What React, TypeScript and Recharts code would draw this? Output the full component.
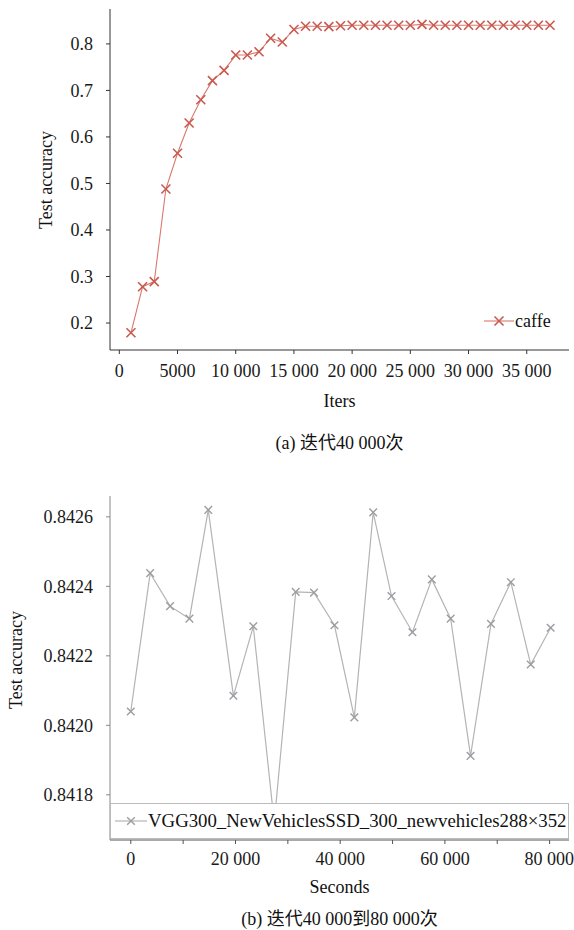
import React from 'react';
import { LineChart, Line, XAxis, YAxis } from 'recharts';

const iters = [1000, 2000, 3000, 4000, 5000, 6000, 7000, 8000, 9000, 10000, 11000, 12000, 13000, 14000, 15000, 16000, 17000, 18000, 19000, 20000, 21000, 22000, 23000, 24000, 25000, 26000, 27000, 28000, 29000, 30000, 31000, 32000, 33000, 34000, 35000, 36000, 37000];
const caffeAcc = [0.179, 0.278, 0.289, 0.488, 0.565, 0.63, 0.68, 0.721, 0.743, 0.776, 0.776, 0.783, 0.812, 0.804, 0.831, 0.838, 0.838, 0.837, 0.839, 0.84, 0.84, 0.84, 0.84, 0.84, 0.84, 0.842, 0.84, 0.84, 0.84, 0.84, 0.84, 0.84, 0.84, 0.84, 0.84, 0.84, 0.84];
const topXTicks = [0, 5000, 10000, 15000, 20000, 25000, 30000, 35000];
const topYTicks = [0.2, 0.3, 0.4, 0.5, 0.6, 0.7, 0.8];

const seconds = [0, 3700, 7500, 11200, 14800, 19600, 23400, 27400, 31500, 35000, 38900, 42700, 46300, 49800, 53800, 57500, 61100, 64900, 68800, 72600, 76400, 80200];
const vggAcc = [0.84204, 0.842438, 0.842343, 0.842307, 0.84262, 0.842085, 0.842285, 0.84172, 0.842384, 0.842382, 0.842288, 0.842023, 0.842613, 0.842372, 0.842268, 0.84242, 0.842307, 0.841912, 0.842292, 0.842412, 0.842175, 0.842281];
const bottomXTicks = [0, 10000, 20000, 30000, 40000, 50000, 60000, 70000, 80000];
const bottomYTicks = [0.8418, 0.842, 0.8422, 0.8424, 0.8426];

const topData = iters.map((x, i) => ({ x, y: caffeAcc[i] }));
const bottomData = seconds.map((x, i) => ({ x, y: vggAcc[i] }));

const FONT = '"Liberation Serif", serif';
const CJK = '"Liberation Serif", "Noto Sans CJK SC", serif';

const fmtThousands = (v: number) => {
  if (v < 10000) return String(v);
  const s = String(v);
  return s.slice(0, s.length - 3) + ' ' + s.slice(s.length - 3);
};

const XMark = (props: any) => {
  const { cx, cy, color, r, sw } = props;
  if (cx == null || cy == null) return null;
  return (
    <g>
      <line x1={cx - r} y1={cy - r} x2={cx + r} y2={cy + r} stroke={color} strokeWidth={sw} />
      <line x1={cx - r} y1={cy + r} x2={cx + r} y2={cy - r} stroke={color} strokeWidth={sw} />
    </g>
  );
};

const tickStyle = { fontSize: 18, fill: '#1a1a1a', style: { fontFamily: FONT } };

const txt = { fontFamily: FONT, fontSize: 18, color: '#111' } as React.CSSProperties;

export default function App() {
  return (
    <div style={{ position: 'absolute', left: 0, top: 0, width: 574, height: 930, background: '#fff', overflow: 'hidden', fontFamily: FONT }}>
      {/* Top chart */}
      <div style={{ position: 'absolute', left: 0, top: 0 }}>
        <LineChart width={574} height={390} data={topData} margin={{ top: 9, right: 5, left: 0, bottom: 0 }} style={{ fontFamily: FONT }}>
          <XAxis dataKey="x" type="number" domain={[-800, 38630]} ticks={topXTicks} tickFormatter={fmtThousands}
            tick={tickStyle} tickSize={4} tickMargin={10} stroke="#333" height={40} allowDataOverflow />
          <XAxis xAxisId="top" orientation="top" type="number" domain={[-800, 38630]} tick={false} tickLine={false} stroke="#333" height={0} />
          <YAxis type="number" domain={[0.142, 0.875]} ticks={topYTicks} tickFormatter={(v: number) => v.toFixed(1)}
            tick={tickStyle} tickSize={4} tickMargin={13} stroke="#333" width={110} allowDataOverflow />
          <YAxis yAxisId="right" orientation="right" type="number" domain={[0.142, 0.875]} tick={false} tickLine={false} stroke="#333" width={0} />
          <Line dataKey="y" stroke="#d9786e" strokeWidth={1.1} isAnimationActive={false}
            dot={(p: any) => <XMark key={p.index} cx={p.cx} cy={p.cy} color="#c95a50" r={4.5} sw={1.6} />} />
        </LineChart>
      </div>
      {/* Top legend */}
      <div style={{ position: 'absolute', left: 484, top: 309, display: 'flex', alignItems: 'center' }}>
        <svg width={30} height={24}>
          <line x1={0} y1={12} x2={30} y2={12} stroke="#d9786e" strokeWidth={1.1} />
          <XMark cx={15} cy={12} color="#c95a50" r={4.5} sw={1.6} />
        </svg>
        <span style={{ ...txt, marginLeft: 1 }}>caffe</span>
      </div>
      <div style={{ ...txt, position: 'absolute', left: 110, width: 459, top: 391, textAlign: 'center' }}>Iters</div>
      <div style={{ ...txt, fontFamily: CJK, position: 'absolute', left: 110, width: 459, top: 433, textAlign: 'center', lineHeight: '20px' }}>(a) 迭代40 000次</div>
      <div style={{ ...txt, position: 'absolute', left: 46, top: 180, transform: 'translate(-50%, -50%) rotate(-90deg)', whiteSpace: 'nowrap' }}>Test accuracy</div>

      {/* Bottom chart */}
      <div style={{ position: 'absolute', left: 0, top: 0 }}>
        <LineChart width={574} height={880} data={bottomData} margin={{ top: 496, right: 5, left: 0, bottom: 0 }} style={{ fontFamily: FONT }}>
          <XAxis dataKey="x" type="number" domain={[-3973, 83706]} ticks={bottomXTicks}
            tickFormatter={(v: number) => (v % 20000 === 0 ? fmtThousands(v) : '')}
            tick={tickStyle} tickSize={4} tickMargin={8} stroke="#555" height={40} allowDataOverflow />
          <XAxis xAxisId="top" orientation="top" type="number" domain={[-3973, 83706]} tick={false} tickLine={false} stroke="#888" height={0} />
          <YAxis type="number" domain={[0.84167, 0.84266]} ticks={bottomYTicks} tickFormatter={(v: number) => v.toFixed(4)}
            tick={tickStyle} tickSize={4} tickMargin={13} stroke="#888" width={110} allowDataOverflow />
          <YAxis yAxisId="right" orientation="right" type="number" domain={[0.84167, 0.84266]} tick={false} tickLine={false} stroke="#888" width={0} />
          <Line dataKey="y" stroke="#b4b4b4" strokeWidth={1.2} isAnimationActive={false}
            dot={(p: any) => <XMark key={p.index} cx={p.cx} cy={p.cy} color="#9a9da2" r={3.8} sw={1.4} />} />
        </LineChart>
      </div>
      {/* Bottom legend */}
      <div style={{ position: 'absolute', left: 110, top: 803, width: 457, height: 34, background: '#fff', border: '1px solid #bbb', display: 'flex', alignItems: 'center' }}>
        <svg width={32} height={24} style={{ marginLeft: 4 }}>
          <line x1={0} y1={12} x2={32} y2={12} stroke="#b4b4b4" strokeWidth={1.2} />
          <XMark cx={16} cy={12} color="#9a9da2" r={3.8} sw={1.4} />
        </svg>
        <span style={{ ...txt, fontSize: 18.8, marginLeft: 1, whiteSpace: 'nowrap' }}>VGG300_NewVehiclesSSD_300_newvehicles288×352</span>
      </div>
      <div style={{ ...txt, position: 'absolute', left: 110, width: 459, top: 877, textAlign: 'center' }}>Seconds</div>
      <div style={{ ...txt, fontFamily: CJK, position: 'absolute', left: 110, width: 459, top: 909, textAlign: 'center', lineHeight: '20px' }}>(b) 迭代40 000到80 000次</div>
      <div style={{ ...txt, position: 'absolute', left: 16, top: 660, transform: 'translate(-50%, -50%) rotate(-90deg)', whiteSpace: 'nowrap' }}>Test accuracy</div>
    </div>
  );
}
